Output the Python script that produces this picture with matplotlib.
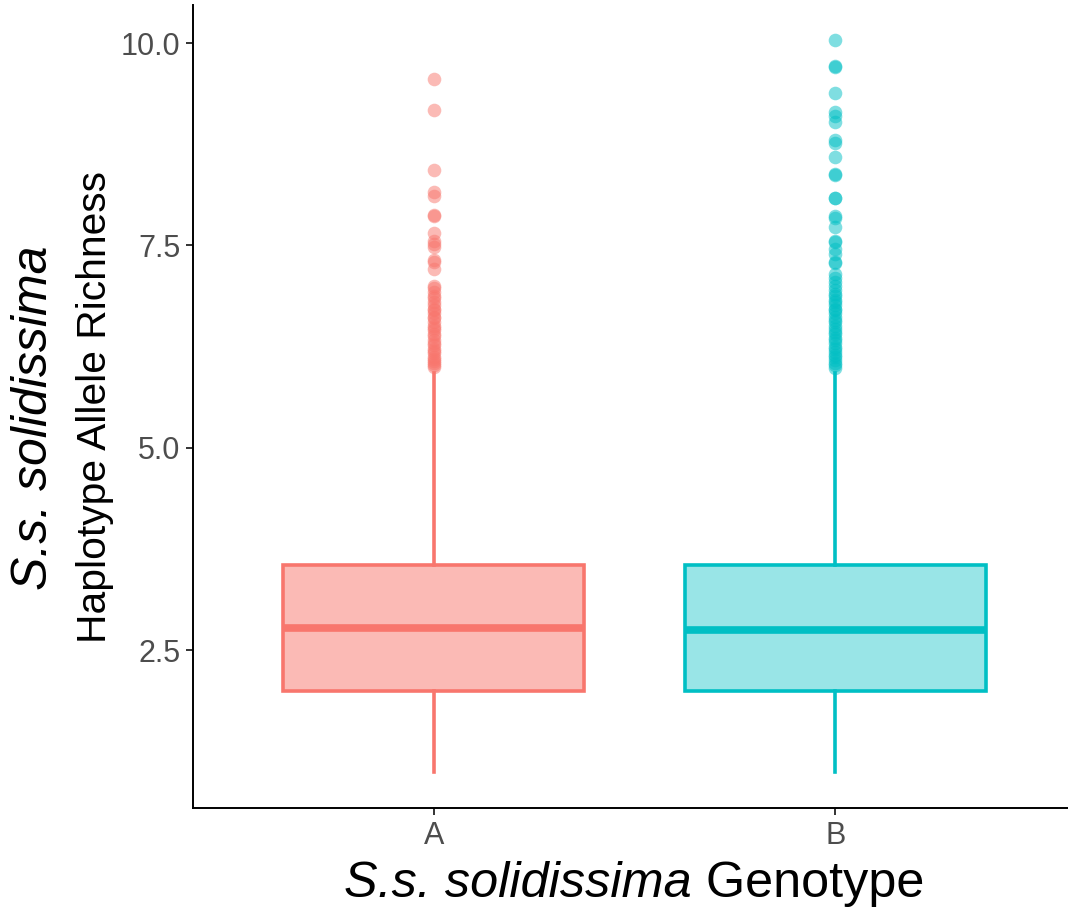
import matplotlib
matplotlib.use("Agg")
from matplotlib import pyplot as plt
from matplotlib.colors import to_rgba

plt.rcParams['font.family'] = ['Liberation Sans', 'DejaVu Sans']

genotypes = ['A', 'B']
colors = ['#F8766D', '#00BFC4']
fill_alpha = [0.5, 0.4]

whislo = [1.0, 1.0]
q1 = [2.0, 2.0]
med = [2.77, 2.75]
q3 = [3.55, 3.55]
whishi = [5.92, 5.92]

outliers_a = [9.55, 9.17, 8.43, 8.16, 8.11, 7.87, 7.86, 7.65, 7.56, 7.52, 7.48,
              7.32, 7.30, 7.21, 7.00, 6.98,
              6.92, 6.88, 6.85, 6.80, 6.77, 6.72, 6.70, 6.66, 6.62, 6.60, 6.55,
              6.50, 6.48, 6.45, 6.40, 6.38, 6.33, 6.30, 6.27, 6.22, 6.20, 6.17,
              6.12, 6.10, 6.07, 6.05, 6.02, 6.00]
outliers_b = [10.04, 9.72, 9.71, 9.38, 9.15, 9.10, 9.03, 8.80, 8.76, 8.59, 8.38,
              8.37, 8.09, 8.08, 7.86, 7.84, 7.73, 7.56, 7.54, 7.45, 7.40, 7.30,
              7.28, 7.15, 7.10, 7.05, 7.00, 6.95,
              6.90, 6.87, 6.83, 6.80, 6.76, 6.72, 6.70, 6.66, 6.62, 6.58, 6.55,
              6.50, 6.47, 6.43, 6.40, 6.36, 6.33, 6.30, 6.25, 6.22, 6.18, 6.15,
              6.12, 6.08, 6.05, 6.02, 5.98]
outliers = [outliers_a, outliers_b]

fig = plt.figure(figsize=(10.68, 9.07), dpi=100)
ax = fig.add_axes([193 / 1068, 99 / 907, 883 / 1068, 803 / 907])

for i in range(2):
    c = colors[i]
    stats = [dict(whislo=whislo[i], q1=q1[i], med=med[i], q3=q3[i],
                  whishi=whishi[i], fliers=outliers[i])]
    ax.bxp(stats, positions=[i + 1], widths=0.75, patch_artist=True,
           showcaps=False,
           boxprops=dict(facecolor=to_rgba(c, fill_alpha[i]), edgecolor=c, linewidth=2.6),
           whiskerprops=dict(color=c, linewidth=2.6),
           medianprops=dict(color=c, linewidth=5.5, solid_capstyle='butt'),
           flierprops=dict(marker='o', markersize=9.8, markerfacecolor=c,
                           markeredgecolor='none', alpha=0.5))

ax.set_xlim(0.4, 2.6)
ax.set_ylim(0.55, 10.47)
ax.set_xticks([1, 2])
ax.set_xticklabels(genotypes)
ax.set_yticks([2.5, 5.0, 7.5, 10.0])
ax.set_yticklabels(['2.5', '5.0', '7.5', '10.0'])

for s in ['top', 'right']:
    ax.spines[s].set_visible(False)
for s in ['left', 'bottom']:
    ax.spines[s].set_linewidth(1.4)
    ax.spines[s].set_color('black')
ax.tick_params(axis='both', length=5, width=1.4, color='#333333',
               labelsize=22, labelcolor='#4D4D4D', pad=4)

# x title: italic species name followed by plain word, centred as one line
renderer = fig.canvas.get_renderer()
t1 = fig.text(0, 1 - 897 / 907, 'S.s. solidissima', fontsize=36.3,
              style='italic', ha='left', va='baseline')
t2 = fig.text(0, 1 - 897 / 907, ' Genotype', fontsize=36.3,
              ha='left', va='baseline')
w1 = t1.get_window_extent(renderer).width
w2 = t2.get_window_extent(renderer).width
x0 = 634 - (w1 + w2) / 2
t1.set_x(x0 / 1068)
t2.set_x((x0 + w1) / 1068)

fig.text(34 / 1068, 1 - 418 / 907, 'S.s. solidissima', rotation=90,
         fontsize=36, style='italic', ha='center', va='center')
fig.text(95 / 1068, 1 - 407 / 907, 'Haplotype Allele Richness', rotation=90,
         fontsize=29.3, ha='center', va='center')

fig.savefig('out.png', dpi=100)
